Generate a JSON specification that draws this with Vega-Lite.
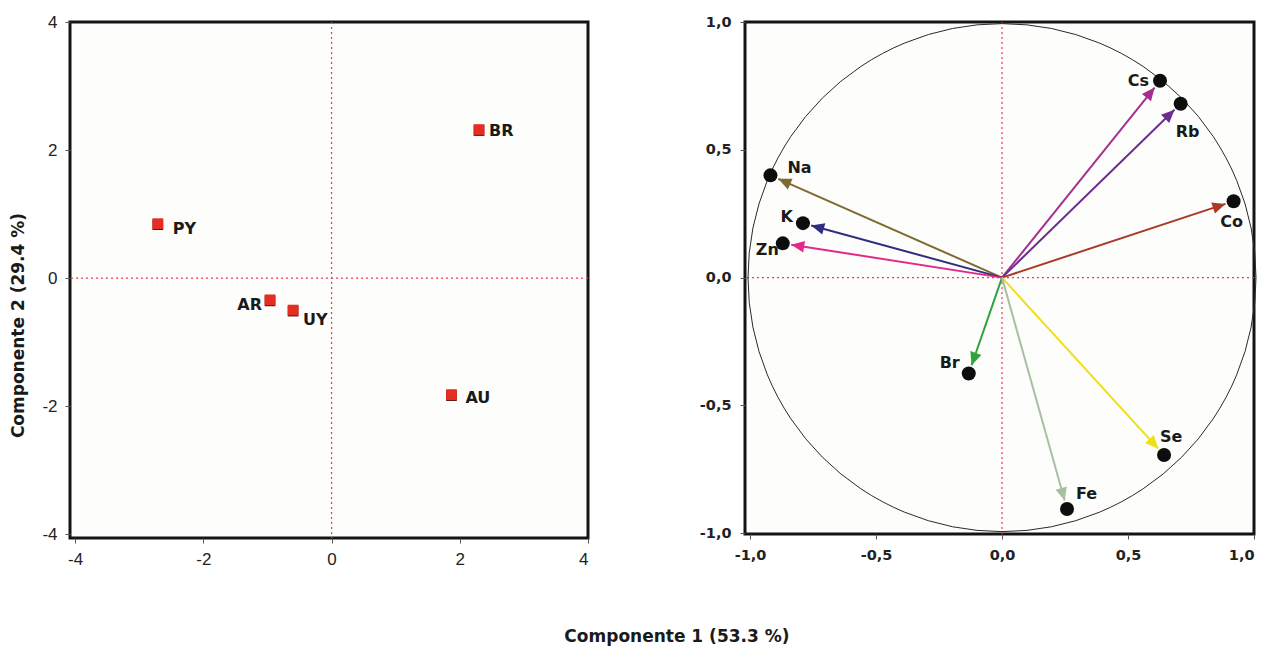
{
  "$schema": "https://vega.github.io/schema/vega-lite/v6.json",
  "padding": {"left": 8, "top": 11, "right": 5, "bottom": 5},
  "background": "white",
  "title": {
    "text": "Componente 1 (53.3 %)",
    "orient": "bottom",
    "anchor": "middle",
    "offset": 60,
    "dx": 43,
    "font": "DejaVu Sans",
    "fontSize": 17,
    "fontWeight": "bold",
    "color": "#1a1a1a"
  },
  "config": {
    "view": {"stroke": "#141414", "strokeWidth": 3, "fill": "#fdfdfb"},
    "axis": {
      "grid": false,
      "domain": false,
      "tickColor": "#555555",
      "tickSize": 5,
      "labelColor": "#222222"
    }
  },
  "datasets": {
    "paises": [
      {"pais": "BR", "pc1": 2.30, "pc2": 2.32},
      {"pais": "PY", "pc1": -2.71, "pc2": 0.85},
      {"pais": "AR", "pc1": -0.96, "pc2": -0.34},
      {"pais": "UY", "pc1": -0.60, "pc2": -0.50},
      {"pais": "AU", "pc1": 1.87, "pc2": -1.82}
    ],
    "cargas": [
      {"elem": "Cs", "c1": 0.627, "c2": 0.770},
      {"elem": "Rb", "c1": 0.709, "c2": 0.680},
      {"elem": "Na", "c1": -0.919, "c2": 0.400},
      {"elem": "K", "c1": -0.790, "c2": 0.213},
      {"elem": "Zn", "c1": -0.870, "c2": 0.134},
      {"elem": "Co", "c1": 0.919, "c2": 0.299},
      {"elem": "Br", "c1": -0.132, "c2": -0.375},
      {"elem": "Se", "c1": 0.643, "c2": -0.694},
      {"elem": "Fe", "c1": 0.258, "c2": -0.905}
    ],
    "origem": [{"c1": 0, "c2": 0}]
  },
  "spacing": 106,
  "hconcat": [
    {
      "width": 518,
      "height": 516,
      "data": {"name": "paises"},
      "encoding": {
        "x": {
          "field": "pc1", "type": "quantitative",
          "scale": {"domain": [-4.08, 4], "nice": false, "zero": false},
          "axis": {
            "title": null, "values": [-4, -2, 0, 2, 4],
            "labelFont": "Liberation Sans", "labelFontSize": 17, "labelPadding": 8,
            "labelExpr": "(datum.value < 0 ? '-' : '') + abs(datum.value)"
          }
        },
        "y": {
          "field": "pc2", "type": "quantitative",
          "scale": {"domain": [-4.06, 4], "nice": false, "zero": false},
          "axis": {
            "title": "Componente 2 (29.4 %)", "values": [-4, -2, 0, 2, 4],
            "labelFont": "Liberation Sans", "labelFontSize": 17, "labelPadding": 8,
            "labelExpr": "(datum.value < 0 ? '-' : '') + abs(datum.value)",
            "titleFont": "DejaVu Sans", "titleFontSize": 17, "titleFontWeight": "bold",
            "titleColor": "#1a1a1a", "titlePadding": 14, "titleY": 303
          }
        }
      },
      "layer": [
        {
          "data": {"values": [{"v": 0}]},
          "mark": {"type": "rule", "stroke": "#ea3b50", "strokeWidth": 1.2, "strokeDash": [2, 3]},
          "encoding": {"x": {"field": "v", "type": "quantitative"}, "y": null}
        },
        {
          "data": {"values": [{"v": 0}]},
          "mark": {"type": "rule", "stroke": "#ea3b50", "strokeWidth": 1.2, "strokeDash": [2, 3]},
          "encoding": {"y": {"field": "v", "type": "quantitative"}, "x": null}
        },
        {
          "mark": {"type": "point", "shape": "square", "filled": true, "size": 115, "color": "#5a1410", "opacity": 1, "yOffset": 1}
        },
        {
          "mark": {"type": "point", "shape": "square", "filled": true, "size": 115, "color": "#e52d23", "opacity": 1}
        },
        {
          "transform": [{"filter": "datum.pais === 'BR'"}],
          "mark": {"type": "text", "align": "left", "baseline": "middle", "dx": 10, "dy": 1, "font": "DejaVu Sans", "fontSize": 16, "fontWeight": "bold", "color": "#1a1a1a"},
          "encoding": {"text": {"field": "pais"}}
        },
        {
          "transform": [{"filter": "datum.pais === 'PY'"}],
          "mark": {"type": "text", "align": "left", "baseline": "middle", "dx": 15, "dy": 5, "font": "DejaVu Sans", "fontSize": 16, "fontWeight": "bold", "color": "#1a1a1a"},
          "encoding": {"text": {"field": "pais"}}
        },
        {
          "transform": [{"filter": "datum.pais === 'AR'"}],
          "mark": {"type": "text", "align": "right", "baseline": "middle", "dx": -8, "dy": 5, "font": "DejaVu Sans", "fontSize": 16, "fontWeight": "bold", "color": "#1a1a1a"},
          "encoding": {"text": {"field": "pais"}}
        },
        {
          "transform": [{"filter": "datum.pais === 'UY'"}],
          "mark": {"type": "text", "align": "left", "baseline": "middle", "dx": 10, "dy": 10, "font": "DejaVu Sans", "fontSize": 16, "fontWeight": "bold", "color": "#1a1a1a"},
          "encoding": {"text": {"field": "pais"}}
        },
        {
          "transform": [{"filter": "datum.pais === 'AU'"}],
          "mark": {"type": "text", "align": "left", "baseline": "middle", "dx": 14, "dy": 3, "font": "DejaVu Sans", "fontSize": 16, "fontWeight": "bold", "color": "#1a1a1a"},
          "encoding": {"text": {"field": "pais"}}
        }
      ]
    },
    {
      "width": 509,
      "height": 512,
      "data": {"name": "cargas"},
      "transform": [
        {"calculate": "sqrt(datum.c1 * datum.c1 + datum.c2 * datum.c2)", "as": "len"},
        {"calculate": "datum.c1 * (1 - 0.034 / datum.len)", "as": "tx"},
        {"calculate": "datum.c2 * (1 - 0.034 / datum.len)", "as": "ty"},
        {"calculate": "atan2(-datum.ty * 256, datum.tx * 252) * 180 / PI", "as": "ang"}
      ],
      "encoding": {
        "x": {
          "field": "c1", "type": "quantitative",
          "scale": {"domain": [-1.02, 1], "nice": false, "zero": false},
          "axis": {
            "title": null, "values": [-1, -0.5, 0, 0.5, 1],
            "labelFont": "DejaVu Sans", "labelFontSize": 14.5, "labelFontWeight": "bold", "labelPadding": 9,
            "labelExpr": "(datum.value < 0 ? '-' : '') + replace(format(abs(datum.value), '.1f'), '.', ',')"
          }
        },
        "y": {
          "field": "c2", "type": "quantitative",
          "scale": {"domain": [-1.003, 1], "nice": false, "zero": false},
          "axis": {
            "title": null, "values": [-1, -0.5, 0, 0.5, 1],
            "labelFont": "DejaVu Sans", "labelFontSize": 14.5, "labelFontWeight": "bold", "labelPadding": 9,
            "labelExpr": "(datum.value < 0 ? '-' : '') + replace(format(abs(datum.value), '.1f'), '.', ',')"
          }
        },
        "color": {
          "field": "elem", "type": "nominal", "legend": null,
          "scale": {
            "domain": ["Cs", "Rb", "Na", "K", "Zn", "Co", "Br", "Se", "Fe"],
            "range": ["#a3308f", "#6b2d8e", "#7d6b30", "#2f2d7e", "#e4288a", "#aa3a28", "#2ea23c", "#f0df18", "#a8bfa2"]
          }
        }
      },
      "layer": [
        {
          "data": {"values": [{"v": 0}]},
          "mark": {"type": "rule", "stroke": "#ea3b50", "strokeWidth": 1.2, "strokeDash": [2, 3]},
          "encoding": {"x": {"field": "v", "type": "quantitative"}, "y": null, "color": null}
        },
        {
          "data": {"values": [{"v": 0}]},
          "mark": {"type": "rule", "stroke": "#ea3b50", "strokeWidth": 1.2, "strokeDash": [2, 3]},
          "encoding": {"y": {"field": "v", "type": "quantitative"}, "x": null, "color": null}
        },
        {
          "data": {"name": "origem"},
          "mark": {"type": "point", "shape": "circle", "filled": false, "size": 258064, "stroke": "#2a2a2a", "strokeWidth": 1, "opacity": 1},
          "encoding": {"color": null}
        },
        {
          "mark": {"type": "rule", "strokeWidth": 2},
          "encoding": {
            "x": {"datum": 0, "type": "quantitative"},
            "y": {"datum": 0, "type": "quantitative"},
            "x2": {"field": "tx"},
            "y2": {"field": "ty"}
          }
        },
        {
          "mark": {"type": "point", "shape": "M 0 0 L -2 -0.9 L -2 0.9 Z", "filled": true, "size": 169, "opacity": 1},
          "encoding": {
            "x": {"field": "tx", "type": "quantitative"},
            "y": {"field": "ty", "type": "quantitative"},
            "angle": {"field": "ang", "type": "quantitative", "scale": null}
          }
        },
        {
          "mark": {"type": "point", "shape": "circle", "filled": true, "size": 196, "color": "#0d0d0d", "opacity": 1},
          "encoding": {"color": null}
        },
        {
          "transform": [{"filter": "datum.elem === 'Cs'"}],
          "mark": {"type": "text", "align": "right", "baseline": "middle", "dx": -11, "dy": 0, "font": "DejaVu Sans", "fontSize": 16, "fontWeight": "bold", "color": "#1a1a1a"},
          "encoding": {"text": {"field": "elem"}, "color": null}
        },
        {
          "transform": [{"filter": "datum.elem === 'Rb'"}],
          "mark": {"type": "text", "align": "center", "baseline": "middle", "dx": 7, "dy": 28, "font": "DejaVu Sans", "fontSize": 16, "fontWeight": "bold", "color": "#1a1a1a"},
          "encoding": {"text": {"field": "elem"}, "color": null}
        },
        {
          "transform": [{"filter": "datum.elem === 'Na'"}],
          "mark": {"type": "text", "align": "left", "baseline": "middle", "dx": 17, "dy": -7, "font": "DejaVu Sans", "fontSize": 16, "fontWeight": "bold", "color": "#1a1a1a"},
          "encoding": {"text": {"field": "elem"}, "color": null}
        },
        {
          "transform": [{"filter": "datum.elem === 'K'"}],
          "mark": {"type": "text", "align": "right", "baseline": "middle", "dx": -10, "dy": -6, "font": "DejaVu Sans", "fontSize": 16, "fontWeight": "bold", "color": "#1a1a1a"},
          "encoding": {"text": {"field": "elem"}, "color": null}
        },
        {
          "transform": [{"filter": "datum.elem === 'Zn'"}],
          "mark": {"type": "text", "align": "right", "baseline": "middle", "dx": -4, "dy": 7, "font": "DejaVu Sans", "fontSize": 16, "fontWeight": "bold", "color": "#1a1a1a"},
          "encoding": {"text": {"field": "elem"}, "color": null}
        },
        {
          "transform": [{"filter": "datum.elem === 'Co'"}],
          "mark": {"type": "text", "align": "center", "baseline": "middle", "dx": -2, "dy": 21, "font": "DejaVu Sans", "fontSize": 16, "fontWeight": "bold", "color": "#1a1a1a"},
          "encoding": {"text": {"field": "elem"}, "color": null}
        },
        {
          "transform": [{"filter": "datum.elem === 'Br'"}],
          "mark": {"type": "text", "align": "right", "baseline": "middle", "dx": -9, "dy": -10, "font": "DejaVu Sans", "fontSize": 16, "fontWeight": "bold", "color": "#1a1a1a"},
          "encoding": {"text": {"field": "elem"}, "color": null}
        },
        {
          "transform": [{"filter": "datum.elem === 'Se'"}],
          "mark": {"type": "text", "align": "left", "baseline": "middle", "dx": -4, "dy": -18, "font": "DejaVu Sans", "fontSize": 16, "fontWeight": "bold", "color": "#1a1a1a"},
          "encoding": {"text": {"field": "elem"}, "color": null}
        },
        {
          "transform": [{"filter": "datum.elem === 'Fe'"}],
          "mark": {"type": "text", "align": "left", "baseline": "middle", "dx": 9, "dy": -15, "font": "DejaVu Sans", "fontSize": 16, "fontWeight": "bold", "color": "#1a1a1a"},
          "encoding": {"text": {"field": "elem"}, "color": null}
        }
      ]
    }
  ]
}
